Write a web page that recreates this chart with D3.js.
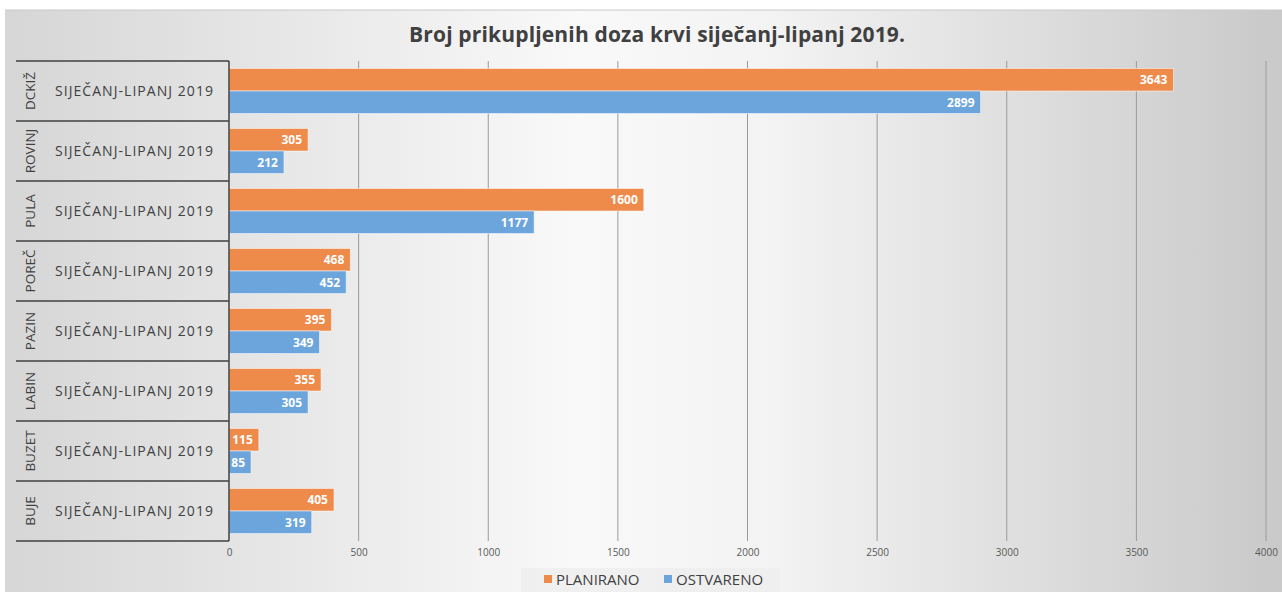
<!DOCTYPE html>
<html><head><meta charset="utf-8">
<script src="https://cdn.jsdelivr.net/npm/d3@7"></script>
<style>
html,body{margin:0;padding:0;background:#fff;}
svg{display:block;font-family:"Open Sans",sans-serif;}
</style></head>
<body><svg id="c" width="1282" height="592"></svg>
<script>
const categories = ["DCKIŽ","ROVINJ","PULA","POREČ","PAZIN","LABIN","BUZET","BUJE"];
const subLabel = "SIJEČANJ-LIPANJ 2019";
const seriesNames = ["PLANIRANO","OSTVARENO"];
const planirano = [3643,305,1600,468,395,355,115,405];
const ostvareno = [2899,212,1177,452,349,305,85,319];
const xTicks = [0,500,1000,1500,2000,2500,3000,3500,4000];
const colors = ["#EE8A4A","#6CA5DB"];
const title = "Broj prikupljenih doza krvi siječanj-lipanj 2019.";

const svg = d3.select("#c");
const defs = svg.append("defs");
const g1 = defs.append("linearGradient").attr("id","bg").attr("x1","0").attr("x2","1").attr("y1","0").attr("y2","0");
g1.append("stop").attr("offset","0").attr("stop-color","#d6d6d6");
g1.append("stop").attr("offset","0.45").attr("stop-color","#f9f9f9");
g1.append("stop").attr("offset","0.6").attr("stop-color","#f3f3f3");
g1.append("stop").attr("offset","1").attr("stop-color","#c9c9c9");

svg.append("rect").attr("x",5).attr("y",10).attr("width",1277).attr("height",582).attr("fill","url(#bg)");
svg.append("line").attr("x1",5).attr("x2",1282).attr("y1",10).attr("y2",10).attr("stroke","#c8c8c8");

svg.append("text").attr("x",657).attr("y",42).attr("text-anchor","middle")
  .attr("font-size",21).attr("font-weight","bold").attr("fill","#404040")
  .attr("textLength",496).text(title);

const x = d3.scaleLinear().domain([0,4000]).range([229,1266]);
const y = d3.scaleBand().domain(categories).range([61,541]).paddingInner(0.25).paddingOuter(0.125);
const ys = d3.scaleBand().domain(seriesNames).range([0,y.bandwidth()]);
const yRow = d3.scaleBand().domain(categories).range([61,541]);

// gridlines
svg.append("g").selectAll("line").data(xTicks.filter(d=>d>0)).join("line")
  .attr("x1",d=>x(d)).attr("x2",d=>x(d)).attr("y1",61).attr("y2",541)
  .attr("stroke","#9a9a9a").attr("stroke-width",1);

// x axis labels
const xAxis = d3.axisBottom(x).tickValues(xTicks).tickFormat(d3.format("d")).tickSize(0).tickPadding(8);
const xa = svg.append("g").attr("transform","translate(0,541)").call(xAxis);
xa.select(".domain").remove();
xa.selectAll("text").attr("font-size",10).attr("fill","#595959").attr("font-family","Open Sans, sans-serif");

// bars
const data = [planirano, ostvareno];
data.forEach((vals,si)=>{
  const gg = svg.append("g");
  gg.selectAll("rect").data(categories).join("rect")
    .attr("x",x(0)).attr("y",(c)=>y(c)+ys(seriesNames[si]))
    .attr("width",(c,i)=>x(vals[i])-x(0)).attr("height",ys.bandwidth())
    .attr("fill",colors[si]).attr("stroke","#ffffff").attr("stroke-opacity",0.5).attr("stroke-width",1);
  gg.selectAll("text").data(categories).join("text")
    .attr("x",(c,i)=>x(vals[i])-6).attr("y",(c)=>y(c)+ys(seriesNames[si])+ys.bandwidth()/2+4.5)
    .attr("text-anchor","end").attr("font-size",12).attr("font-weight","bold").attr("fill","#fff")
    .text((c,i)=>vals[i]);
});

// category table
const tg = svg.append("g");
const bounds = categories.map(c=>yRow(c)).concat([541]);
tg.selectAll("line.h").data(bounds).join("line").attr("class","h")
  .attr("x1",16).attr("x2",229).attr("y1",d=>d).attr("y2",d=>d)
  .attr("stroke","#404040").attr("stroke-width",1.5);
tg.append("line").attr("x1",229).attr("x2",229).attr("y1",61).attr("y2",541)
  .attr("stroke","#404040").attr("stroke-width",1.5);
tg.selectAll("text.cat").data(categories).join("text").attr("class","cat")
  .attr("transform",c=>`translate(35,${yRow(c)+yRow.bandwidth()/2}) rotate(-90)`)
  .attr("text-anchor","middle").attr("font-size",13.5).attr("fill","#404040").text(c=>c);
tg.selectAll("text.sub").data(categories).join("text").attr("class","sub")
  .attr("x",55).attr("y",c=>yRow(c)+yRow.bandwidth()/2+5)
  .attr("font-size",14).attr("fill","#404040").attr("textLength",158).text(subLabel);

// legend
const lg = svg.append("g");
lg.append("rect").attr("x",521).attr("y",568).attr("width",259).attr("height",24).attr("fill","#eeeeee").attr("opacity",0.8);
const lx = [544,664];
seriesNames.forEach((s,i)=>{
  lg.append("rect").attr("x",lx[i]).attr("y",575).attr("width",8).attr("height",8).attr("fill",colors[i]);
  lg.append("text").attr("x",lx[i]+12).attr("y",585).attr("font-size",15).attr("fill","#404040").text(s);
});
</script></body></html>
